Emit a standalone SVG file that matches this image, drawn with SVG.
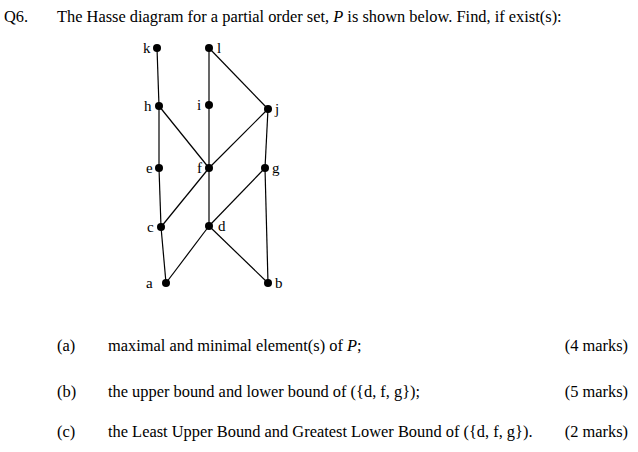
<svg xmlns="http://www.w3.org/2000/svg" width="638" height="452" viewBox="0 0 638 452">
<style>
text{font-family:"Liberation Serif",serif;font-size:16.4px;fill:#000}
.n text{font-size:15px}
.e line{stroke:#000;stroke-width:1.2}
circle{fill:#000}
</style>
<rect width="638" height="452" fill="#fff"/>
<text x="4" y="22">Q6.</text>
<text x="57" y="22">The Hasse diagram for a partial order set, <tspan font-style="italic">P</tspan> is shown below. Find, if exist(s):</text>
<g class="e" id="connectors">
<line x1="157" y1="48" x2="159" y2="106"/>
<line x1="159" y1="106" x2="159" y2="168"/>
<line x1="159" y1="168" x2="161" y2="227"/>
<line x1="161" y1="227" x2="166" y2="283"/>
<line x1="209" y1="48" x2="209" y2="105"/>
<line x1="209" y1="105" x2="209" y2="168"/>
<line x1="209" y1="168" x2="209" y2="226"/>
<line x1="209" y1="48" x2="268" y2="109"/>
<line x1="159" y1="106" x2="209" y2="168"/>
<line x1="268" y1="109" x2="209" y2="168"/>
<line x1="209" y1="168" x2="161" y2="227"/>
<line x1="268" y1="109" x2="265" y2="168"/>
<line x1="265" y1="168" x2="209" y2="226"/>
<line x1="209" y1="226" x2="166" y2="283"/>
<line x1="209" y1="226" x2="268" y2="283"/>
<line x1="265" y1="168" x2="268" y2="283"/>
</g>
<g class="n">
<g id="k"><circle cx="157" cy="48" r="4"/><text x="143" y="53">k</text></g>
<g id="l"><circle cx="209" cy="48" r="4"/><text x="217" y="53">l</text></g>
<g id="h"><circle cx="159" cy="106" r="4"/><text x="144" y="111">h</text></g>
<g id="i"><circle cx="209" cy="105" r="4"/><text x="197" y="110">i</text></g>
<g id="j"><circle cx="268" cy="109" r="4"/><text x="275" y="114">j</text></g>
<g id="e"><circle cx="159" cy="168" r="4"/><text x="146" y="173">e</text></g>
<g id="f"><circle cx="209" cy="168" r="4"/><text x="197" y="173">f</text></g>
<g id="g"><circle cx="265" cy="168" r="4"/><text x="272" y="173">g</text></g>
<g id="c"><circle cx="161" cy="227" r="4"/><text x="147" y="232">c</text></g>
<g id="d"><circle cx="209" cy="226" r="4"/><text x="218" y="231">d</text></g>
<g id="a"><circle cx="166" cy="283" r="4"/><text x="146" y="288">a</text></g>
<g id="b"><circle cx="268" cy="283" r="4"/><text x="275" y="288">b</text></g>
</g>
<text x="57" y="351">(a)</text>
<text x="108" y="351">maximal and minimal element(s) of <tspan font-style="italic">P</tspan>;</text>
<text x="628" y="351" text-anchor="end">(4 marks)</text>
<text x="57" y="397">(b)</text>
<text x="108" y="397">the upper bound and lower bound of ({d, f, g});</text>
<text x="628" y="397" text-anchor="end">(5 marks)</text>
<text x="57" y="437">(c)</text>
<text x="108" y="437">the Least Upper Bound and Greatest Lower Bound of ({d, f, g}).</text>
<text x="628" y="437" text-anchor="end">(2 marks)</text>
</svg>
